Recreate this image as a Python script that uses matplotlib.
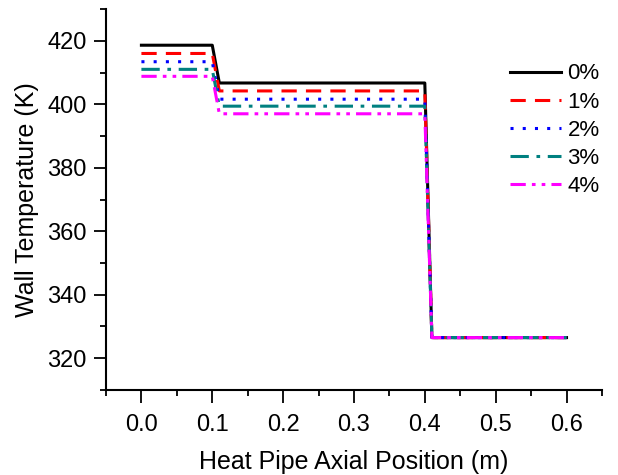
import numpy as np
import matplotlib
matplotlib.use('Agg')
import matplotlib.pyplot as plt
from matplotlib.ticker import MultipleLocator

# axial positions (m) of the step profile
position = [0.0, 0.1, 0.11, 0.4, 0.41, 0.6]

# wall temperature (K) for each case
t0 = [418.6, 418.6, 406.7, 406.7, 326.5, 326.5]
t1 = [416.0, 416.0, 404.2, 404.2, 326.5, 326.5]
t2 = [413.4, 413.4, 401.6, 401.6, 326.5, 326.5]
t3 = [411.0, 411.0, 399.4, 399.4, 326.5, 326.5]
t4 = [408.8, 408.8, 397.0, 397.0, 326.5, 326.5]

labels = ['0%', '1%', '2%', '3%', '4%']
colors = ['black', 'red', 'blue', '#008080', 'magenta']
styles = ['-', (0, (5, 3)), (0, (1, 3)), (0, (6, 2.5, 1.2, 2.5)), (0, (5, 2, 1.2, 2, 1.2, 2))]

plt.rcParams['font.family'] = ['Liberation Sans', 'DejaVu Sans']

fig = plt.figure(figsize=(6.18, 4.75), dpi=100)
ax = fig.add_axes([0.1715, 0.179, 0.8025, 0.802])

for y, lab, c, ls in zip([t0, t1, t2, t3, t4], labels, colors, styles):
    ax.plot(position, y, color=c, linestyle=ls, linewidth=2.2, label=lab)

ax.set_xlim(-0.05, 0.65)
ax.set_ylim(310, 430)
ax.xaxis.set_minor_locator(MultipleLocator(0.05))
ax.yaxis.set_major_locator(MultipleLocator(20))
ax.yaxis.set_minor_locator(MultipleLocator(10))
ax.set_xticks(np.arange(0, 0.61, 0.1))
ax.set_xticklabels(['%.1f' % v for v in np.arange(0, 0.61, 0.1)])

for s in ['top', 'right']:
    ax.spines[s].set_visible(False)
for s in ['left', 'bottom']:
    ax.spines[s].set_linewidth(1.5)

ax.tick_params(which='major', direction='out', length=9, width=1.3, labelsize=17, pad=5)
ax.tick_params(axis='x', which='major', length=9.5, pad=8)
ax.tick_params(which='minor', direction='out', length=4.5, width=1.3)

ax.set_xlabel('Heat Pipe Axial Position (m)', fontsize=18, labelpad=10)
ax.set_ylabel('Wall Temperature (K)', fontsize=18, labelpad=6)

ax.legend(loc='upper right', bbox_to_anchor=(1.0, 0.863), frameon=False, fontsize=16,
          handlelength=2.3, handletextpad=0.3, labelspacing=0.32, borderaxespad=0.0,
          borderpad=0.1)

fig.savefig('out.png', dpi=100)
